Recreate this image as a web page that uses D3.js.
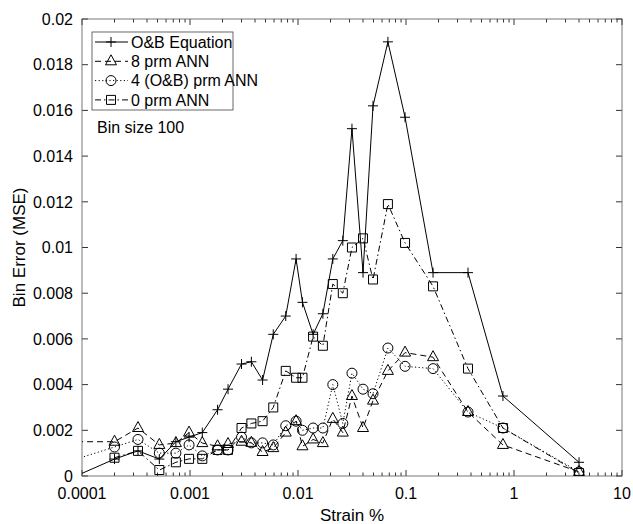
<!DOCTYPE html>
<html>
<head>
<meta charset="utf-8">
<script src="https://cdn.jsdelivr.net/npm/d3@7"></script>
<style>
body { margin: 0; background: #fff; }
text { font-family: "Liberation Sans", Arial, sans-serif; fill: #000; }
</style>
</head>
<body>
<div id="chart"></div>
<script>
// bin centres (strain %), first one sits just left of the axis and is clipped
const strain = [0.00009, 0.0002, 0.00033, 0.00052, 0.00074, 0.00098, 0.0013, 0.0018, 0.00225, 0.003,
    0.0037, 0.0047, 0.0059, 0.0077, 0.0096, 0.011, 0.0138, 0.017, 0.021, 0.026,
    0.0316, 0.04, 0.0495, 0.068, 0.098, 0.178, 0.375, 0.79, 4.0]

const obEquation = [0.00002, 0.00074, 0.0011, 0.00074, 0.0015, 0.0017, 0.0019, 0.0029, 0.0038, 0.0049,
    0.0050, 0.0042, 0.0062, 0.0070, 0.0095, 0.0076, 0.0062, 0.0071, 0.0095, 0.0103,
    0.0152, 0.0089, 0.0162, 0.0190, 0.0157, 0.0089, 0.0089, 0.0035, 0.0006]

const prm8 = [0.0015, 0.0015, 0.0021, 0.00136, 0.00144, 0.0019, 0.00144, 0.0013, 0.0014, 0.0015,
    0.00145, 0.00105, 0.00122, 0.0019, 0.0024, 0.0013, 0.0016, 0.00144, 0.0025, 0.0019,
    0.0035, 0.0021, 0.0033, 0.0046, 0.0054, 0.0052, 0.0028, 0.00136, 0.00018]

const prm4 = [0.00075, 0.00127, 0.0016, 0.001, 0.001, 0.00136, 0.00088, 0.00114, 0.00114, 0.0017,
    0.00145, 0.00145, 0.00136, 0.0022, 0.0024, 0.002, 0.0021, 0.0021, 0.0040, 0.0023,
    0.0045, 0.0038, 0.0036, 0.0056, 0.0048, 0.0047, 0.0028, 0.0021, 0.00018]

const prm0 = [null, 0.0008, 0.0011, 0.00026, 0.0006, 0.00075, 0.00075, 0.00114, 0.00114, 0.0021,
    0.0023, 0.0024, 0.0030, 0.0046, 0.0043, 0.0043, 0.0061, 0.0057, 0.0084, 0.0080,
    0.0100, 0.0104, 0.0086, 0.0119, 0.0102, 0.0083, 0.0047, 0.0021, 0.00013]

const seriesNames = ["O&B Equation", "8 prm ANN", "4 (O&B) prm ANN", "0 prm ANN"]
const xTickLabels = ["0.0001", "0.001", "0.01", "0.1", "1", "10"]
const yTickValues = [0, 0.002, 0.004, 0.006, 0.008, 0.01, 0.012, 0.014, 0.016, 0.018, 0.02]

const width = 633
const height = 524
const margin = { top: 19, right: 11, bottom: 48, left: 82 }
const innerW = width - margin.left - margin.right
const innerH = height - margin.top - margin.bottom

const x = d3.scaleLog().domain([0.0001, 10]).range([margin.left, margin.left + innerW])
const y = d3.scaleLinear().domain([0, 0.02]).range([margin.top + innerH, margin.top])

const svg = d3.select("#chart")
    .append("svg")
    .attr("width", width)
    .attr("height", height)

svg.append("defs").append("clipPath")
    .attr("id", "plot-clip")
    .append("rect")
    .attr("x", margin.left)
    .attr("y", margin.top)
    .attr("width", innerW)
    .attr("height", innerH)

// marker shapes, MATLAB style
const circlePath = d3.path()
circlePath.arc(0, 0, 5, 0, 2 * Math.PI)
const marker = {
    plus: "M-5,0H5M0,-5V5",
    tri: "M0,-6.5L5.5,3.5L-5.5,3.5Z",
    circle: circlePath.toString(),
    square: "M-4.5,-4.5H4.5V4.5H-4.5Z"
}

const series = [
    { name: seriesNames[0], values: obEquation, dash: null, mark: marker.plus },
    { name: seriesNames[1], values: prm8, dash: "6,4", mark: marker.tri },
    { name: seriesNames[2], values: prm4, dash: "1.2,2.4", mark: marker.circle },
    { name: seriesNames[3], values: prm0, dash: "6,3,1.5,3", mark: marker.square }
]

// ticks
const majors = d3.range(-4, 2).map(p => Math.pow(10, p))
const minors = []
majors.slice(0, 5).forEach(m => { for (let k = 2; k < 10; k++) minors.push(m * k) })

const axes = svg.append("g").attr("stroke", "#000").attr("stroke-width", 0.8).attr("fill", "none")
const yBottom = margin.top + innerH
const yTop = margin.top
const xLeft = margin.left
const xRight = margin.left + innerW

majors.forEach(v => {
    axes.append("line").attr("x1", x(v)).attr("x2", x(v)).attr("y1", yBottom).attr("y2", yBottom - 6)
    axes.append("line").attr("x1", x(v)).attr("x2", x(v)).attr("y1", yTop).attr("y2", yTop + 6)
})
minors.forEach(v => {
    axes.append("line").attr("x1", x(v)).attr("x2", x(v)).attr("y1", yBottom).attr("y2", yBottom - 3.5)
    axes.append("line").attr("x1", x(v)).attr("x2", x(v)).attr("y1", yTop).attr("y2", yTop + 3.5)
})
yTickValues.forEach(v => {
    axes.append("line").attr("x1", xLeft).attr("x2", xLeft + 6).attr("y1", y(v)).attr("y2", y(v))
    axes.append("line").attr("x1", xRight).attr("x2", xRight - 6).attr("y1", y(v)).attr("y2", y(v))
})
axes.append("rect")
    .attr("x", xLeft).attr("y", yTop)
    .attr("width", innerW).attr("height", innerH)
    .attr("stroke", "#555")

svg.append("g").selectAll("text")
    .data(majors)
    .join("text")
    .attr("x", d => x(d))
    .attr("y", yBottom + 23)
    .attr("text-anchor", "middle")
    .attr("font-size", 16)
    .text((d, i) => xTickLabels[i])

svg.append("g").selectAll("text")
    .data(yTickValues)
    .join("text")
    .attr("x", xLeft - 9)
    .attr("y", d => y(d))
    .attr("dy", "0.36em")
    .attr("text-anchor", "end")
    .attr("font-size", 16)
    .text(d => d === 0 ? "0" : String(+d.toFixed(3)))

svg.append("text")
    .attr("x", xLeft + innerW / 2)
    .attr("y", 521)
    .attr("text-anchor", "middle")
    .attr("font-size", 17)
    .text("Strain %")

svg.append("text")
    .attr("transform", `translate(25,${margin.top + innerH / 2}) rotate(-90)`)
    .attr("text-anchor", "middle")
    .attr("font-size", 17)
    .text("Bin Error (MSE)")

// lines + markers
const plot = svg.append("g").attr("clip-path", "url(#plot-clip)")

series.forEach(s => {
    const pts = strain.map((v, i) => [v, s.values[i]]).filter(p => p[1] !== null)
    const line = d3.line().x(d => x(d[0])).y(d => y(d[1]))
    plot.append("path")
        .attr("d", line(pts))
        .attr("fill", "none")
        .attr("stroke", "#000")
        .attr("stroke-width", 1)
        .attr("stroke-dasharray", s.dash)
    plot.append("g").selectAll("path")
        .data(pts.filter(p => p[0] >= 0.0001))
        .join("path")
        .attr("transform", d => `translate(${x(d[0])},${y(d[1])})`)
        .attr("d", s.mark)
        .attr("fill", "none")
        .attr("stroke", "#000")
        .attr("stroke-width", 1)
})

// legend
const legend = svg.append("g")
legend.append("rect")
    .attr("x", 92).attr("y", 32)
    .attr("width", 141).attr("height", 78)
    .attr("fill", "#fff")
    .attr("stroke", "#444")
    .attr("stroke-width", 0.8)

series.forEach((s, i) => {
    const ly = 42 + i * 19.3
    legend.append("line")
        .attr("x1", 95).attr("x2", 128)
        .attr("y1", ly).attr("y2", ly)
        .attr("stroke", "#000")
        .attr("stroke-dasharray", s.dash)
    legend.append("path")
        .attr("transform", `translate(111,${ly})`)
        .attr("d", s.mark)
        .attr("fill", "none")
        .attr("stroke", "#000")
    legend.append("text")
        .attr("x", 131)
        .attr("y", ly)
        .attr("dy", "0.36em")
        .attr("font-size", 16)
        .text(s.name)
})

svg.append("text")
    .attr("x", 97)
    .attr("y", 133)
    .attr("font-size", 16)
    .text("Bin size 100")
</script>
</body>
</html>
